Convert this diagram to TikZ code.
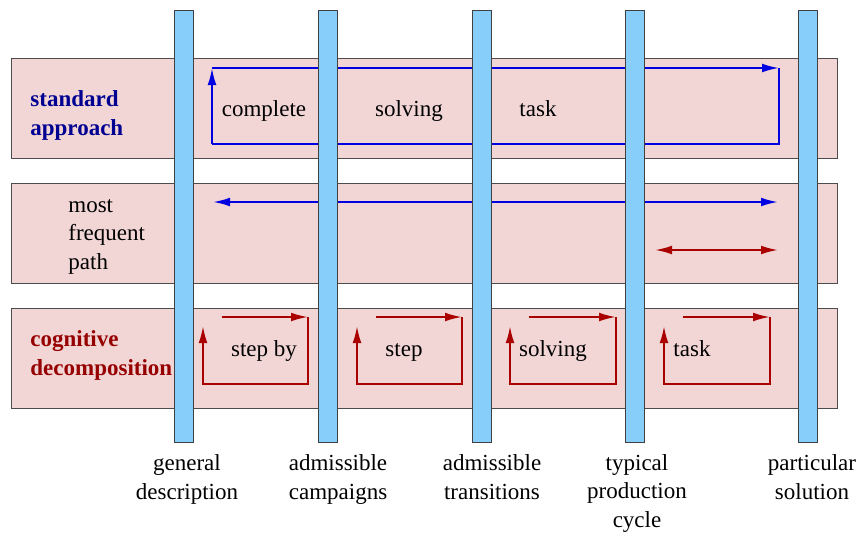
\documentclass[tikz,border=0pt]{standalone}
\usepackage{fontspec}
\setmainfont{Liberation Serif}
\usetikzlibrary{arrows.meta}
\definecolor{bandpink}{RGB}{242,214,214}
\definecolor{barblue}{RGB}{135,206,250}
\definecolor{pathblue}{RGB}{0,0,225}
\definecolor{pathred}{RGB}{170,0,0}
\definecolor{labblue}{RGB}{0,0,145}
\definecolor{labred}{RGB}{150,0,0}
\newcommand{\lbl}{\fontsize{11.5}{14.2}\selectfont}

\begin{document}
\begin{tikzpicture}[x=0.5pt,y=-0.5pt,
   band/.style={fill=bandpink,draw=black!70,line width=0.5pt},
   bar/.style={fill=barblue,draw=black!75,line width=0.5pt},
   tip/.style={-{Latex[length=8.5pt,width=4.4pt]}},
   bothtips/.style={{Latex[length=8.5pt,width=4.4pt]}-{Latex[length=8.5pt,width=4.4pt]}},
   bpath/.style={draw=pathblue,line width=1pt},
   rpath/.style={draw=pathred,line width=1pt},
   txt/.style={font=\lbl,inner sep=0pt}]
   \useasboundingbox (0,0) rectangle (860,536);
   % the three bands
   \filldraw[band] (11,58)  rectangle (837,158);
   \filldraw[band] (11,183) rectangle (837,283);
   \filldraw[band] (11,308) rectangle (837,408);
   % standard approach: one loop over all steps
   \draw[bpath,tip] (212,144) -- (212,68);
   \draw[bpath,tip] (212,68) -- (779,68);
   \draw[bpath] (779,68) -- (779,144) -- (212,144);
   % most frequent path
   \draw[bpath,bothtips] (213,202) -- (778,202);
   \draw[rpath,bothtips] (655,250) -- (778,250);
   % cognitive decomposition: one loop per step
   \draw[rpath,tip] (222,317) -- (308,317);
   \draw[rpath,tip] (308,317) -- (308,384) -- (203,384) -- (203,326);
   \draw[rpath,tip] (376,317) -- (462,317);
   \draw[rpath,tip] (462,317) -- (462,384) -- (357,384) -- (357,326);
   \draw[rpath,tip] (529,317) -- (616,317);
   \draw[rpath,tip] (616,317) -- (616,384) -- (510,384) -- (510,326);
   \draw[rpath,tip] (683,317) -- (770,317);
   \draw[rpath,tip] (770,317) -- (770,384) -- (664,384) -- (664,326);
   % the stages
   \filldraw[bar] (174.5,10) rectangle (193.5,442);
   \filldraw[bar] (318.5,10) rectangle (337.5,442);
   \filldraw[bar] (472,10)   rectangle (491,442);
   \filldraw[bar] (625.5,10) rectangle (644.5,442);
   \filldraw[bar] (798.5,10) rectangle (817.5,442);
   % row labels (base = last line)
   \node[txt,anchor=base west,align=left,text=labblue,font=\lbl\bfseries] (std) at (30,135)
      {standard\\approach};
   \node[txt,anchor=base west,align=left] (freq) at (68,269) {most\\frequent\\path};
   \node[txt,anchor=base west,align=left,text=labred,font=\lbl\bfseries] (cog) at (30,375)
      {cognitive\\decomposition};
   % loop texts
   \node[txt,anchor=base] (c1) at (264,116) {complete};
   \node[txt,anchor=base] (c2) at (409,116) {solving};
   \node[txt,anchor=base] (c3) at (538,116) {task};
   \node[txt,anchor=base] (s1) at (264,356) {step by};
   \node[txt,anchor=base] (s2) at (404,356) {step};
   \node[txt,anchor=base] (s3) at (553,356) {solving};
   \node[txt,anchor=base] (s4) at (692,356) {task};
   % stage names
   \node[txt,anchor=base,align=center] (g1) at (187,499) {general\\description};
   \node[txt,anchor=base,align=center] (g2) at (338,499) {admissible\\campaigns};
   \node[txt,anchor=base,align=center] (g3) at (492,499) {admissible\\transitions};
   \node[txt,anchor=base,align=center] (g4) at (637,527) {typical\\production\\cycle};
   \node[txt,anchor=base,align=center] (g5) at (812,499) {particular\\solution};
\end{tikzpicture}
\end{document}
